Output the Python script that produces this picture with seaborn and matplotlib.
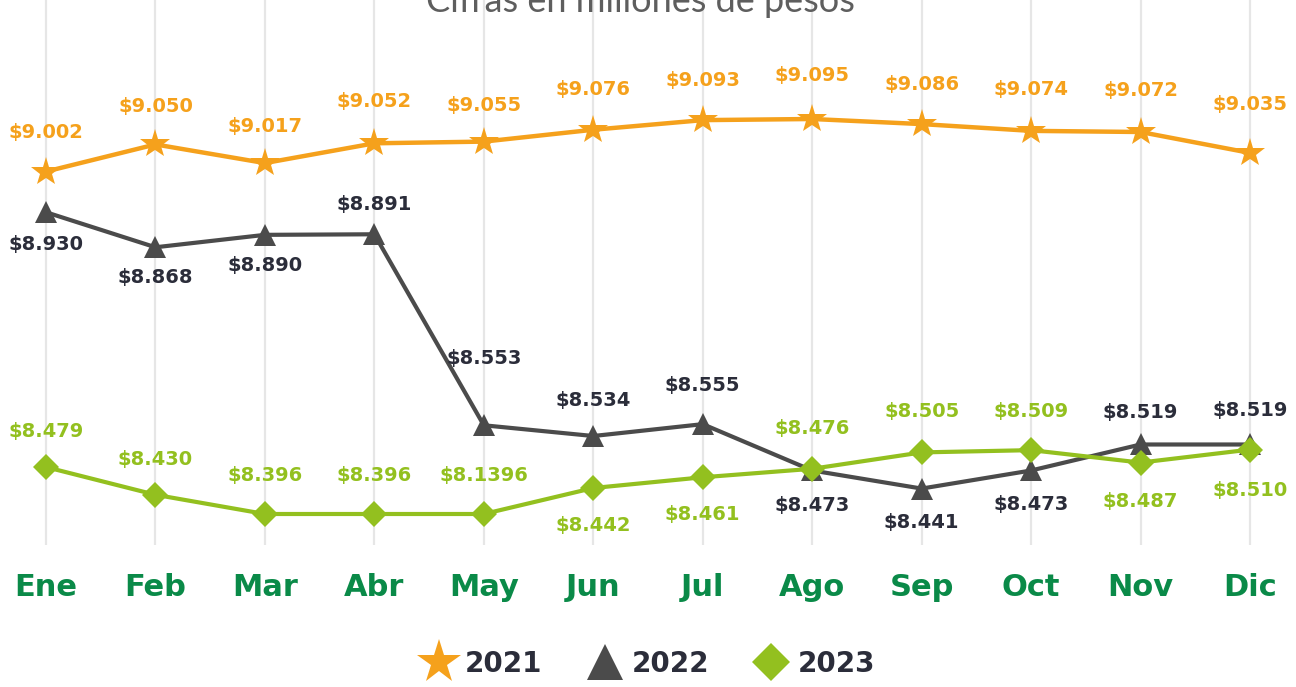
import matplotlib
matplotlib.use('Agg')
import matplotlib.pyplot as plt
import seaborn as sns
import pandas as pd
from matplotlib.lines import Line2D

# ---------------- data ----------------
months = ['Ene', 'Feb', 'Mar', 'Abr', 'May', 'Jun', 'Jul', 'Ago', 'Sep', 'Oct', 'Nov', 'Dic']
years = ['2021', '2022', '2023']
v2021 = [9.002, 9.050, 9.017, 9.052, 9.055, 9.076, 9.093, 9.095, 9.086, 9.074, 9.072, 9.035]
v2022 = [8.930, 8.868, 8.890, 8.891, 8.553, 8.534, 8.555, 8.473, 8.441, 8.473, 8.519, 8.519]
v2023 = [8.479, 8.430, 8.396, 8.396, 8.396, 8.442, 8.461, 8.476, 8.505, 8.509, 8.487, 8.510]
lab2021 = ['9.002', '9.050', '9.017', '9.052', '9.055', '9.076', '9.093', '9.095', '9.086', '9.074', '9.072', '9.035']
lab2022 = ['8.930', '8.868', '8.890', '8.891', '8.553', '8.534', '8.555', '8.473', '8.441', '8.473', '8.519', '8.519']
lab2023 = ['8.479', '8.430', '8.396', '8.396', '8.1396', '8.442', '8.461', '8.476', '8.505', '8.509', '8.487', '8.510']
title = 'Cifras en millones de pesos'

# ---------------- layout / style ----------------
W, H, DPI = 1296, 687, 100
PX = 72.0 / DPI  # px -> points
# vertical label offsets in px (negative = above point)
off2021 = [-39, -38, -37, -42, -36, -40, -40, -44, -40, -41, -41, -48]
off2022 = [32, 30, 31, -30, -67, -36, -39, 35, 34, 34, -32, -34]
off2023 = [-36, -35, -38, -38, -38, 37, 37, -40, -41, -39, 39, 41]

c21, c22, c23 = '#f5a11c', '#4b4b4b', '#93c01f'
c22txt = '#2b2d3a'
cmonth = '#0a8a48'

sns.set_theme(style='white')
plt.rcParams['font.family'] = ['DejaVu Sans']

df = pd.DataFrame({
    'Mes': months * 3,
    'Año': [y for y in years for _ in months],
    'Valor': v2021 + v2022 + v2023,
})

fig = plt.figure(figsize=(W / DPI, H / DPI), dpi=DPI)
ax = fig.add_axes([0, 1 - 545 / H, 1, 545 / H])

styles = {
    '2021': dict(color=c21, marker='*', ms=22, lw=3.2),
    '2022': dict(color=c22, marker='^', ms=16, lw=3.0),
    '2023': dict(color=c23, marker='D', ms=13.5, lw=3.0),
}
for y in years:
    st = styles[y]
    sns.lineplot(data=df[df['Año'] == y], x='Mes', y='Valor', sort=False, ax=ax,
                 color=st['color'], marker=st['marker'], markersize=st['ms'],
                 linewidth=st['lw'], markeredgecolor=st['color'], markeredgewidth=0,
                 legend=False, zorder=3)

series = [
    (v2021, lab2021, off2021, c21),
    (v2022, lab2022, off2022, c22txt),
    (v2023, lab2023, off2023, c23),
]
for vals, labs, offs, col in series:
    for i, (v, l, o) in enumerate(zip(vals, labs, offs)):
        ax.annotate('\\$' + l, (i, v), xytext=(0, -o * PX), textcoords='offset points',
                    ha='center', va='center', fontsize=14, fontweight='bold', color=col,
                    zorder=4)

px_per_unit = (514 - 119) / (9.095 - 8.396)
ytop = 9.095 + 119 / px_per_unit
ybot = 8.396 - (545 - 514) / px_per_unit
ax.set_ylim(ybot, ytop)
step = (1250 - 46) / 11
ax.set_xlim(-46 / step, 11 + 46 / step)

ax.set_xticks(range(12))
ax.set_xticklabels(months, fontsize=22, fontweight='bold', color=cmonth)
ax.tick_params(axis='x', length=0, pad=20)
ax.set_yticks([])
ax.set_xlabel('')
ax.set_ylabel('')
ax.grid(axis='x', color='#e6e6e6', lw=1.6)
ax.grid(axis='y', visible=False)
ax.set_axisbelow(True)
for s in ax.spines.values():
    s.set_visible(False)
ax.patch.set_alpha(0)

fig.text(0.494, 1 - 12 / H, title, ha='center', va='baseline', fontsize=26,
         color='#5e5e5e', fontweight='normal', family=['Lato', 'DejaVu Sans'])

handles = [
    Line2D([], [], ls='none', marker='*', ms=33, color=c21, mew=0),
    Line2D([], [], ls='none', marker='^', ms=26, color=c22, mew=0),
    Line2D([], [], ls='none', marker='D', ms=19, color=c23, mew=0),
]
fig.legend(handles, years, loc='center', bbox_to_anchor=(0.5, 1 - 664 / H), ncol=3,
           frameon=False, prop={'weight': 'heavy', 'size': 20}, labelcolor=c22txt,
           handletextpad=0.3, columnspacing=1.6, handlelength=1.3)

fig.savefig('out.png', dpi=DPI)
